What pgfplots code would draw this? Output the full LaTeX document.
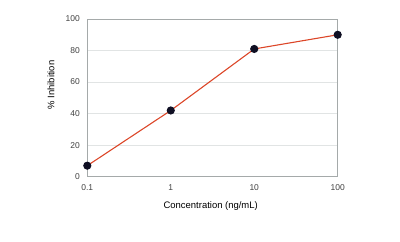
\documentclass[border=0pt]{standalone}
\usepackage{pgfplots}
\pgfplotsset{compat=1.18}
\usepackage{fontspec}
\setmainfont{Liberation Sans}
\definecolor{linered}{RGB}{220,70,40}
\definecolor{framegray}{RGB}{165,170,170}
\definecolor{gridgray}{RGB}{225,228,228}
\definecolor{markblue}{RGB}{15,15,35}
\begin{document}
\begin{tikzpicture}[x=1bp,y=1bp]
\useasboundingbox (0,0) rectangle (400,242);
\begin{axis}[
  at={(87.3bp,65.3bp)}, anchor=south west,
  scale only axis, width=250.4bp, height=157.7bp,
  xmode=log, xmin=0.1, xmax=100,
  ymin=0, ymax=100,
  xtick={0.1,1,10,100}, xticklabels={0.1,1,10,100},
  ytick={0,20,40,60,80,100},
  ymajorgrids, major grid style={gridgray, line width=0.8pt},
  axis line style={framegray, line width=0.8pt},
  tick style={draw=none},
  minor tick num=0,
  xminorticks=false,
  tick label style={font=\fontsize{8.5}{10}\selectfont, text=black!75},
  /pgf/number format/assume math mode=true,
  xticklabel style={yshift=-4bp},
  yticklabel style={xshift=-4bp},
  clip=false,
]
\addplot[linered, line width=1.1pt, mark=*, mark size=3.5bp, mark options={fill=markblue, draw=markblue}]
  coordinates {(0.1,7) (1,42) (10,81) (100,90)};
\end{axis}
\node[rotate=90, font=\fontsize{9.5}{11}\selectfont] at (51,157) {\% Inhibition};
\node[font=\fontsize{9.5}{11}\selectfont] at (210.7,36.3) {Concentration (ng/mL)};
\end{tikzpicture}
\end{document}
